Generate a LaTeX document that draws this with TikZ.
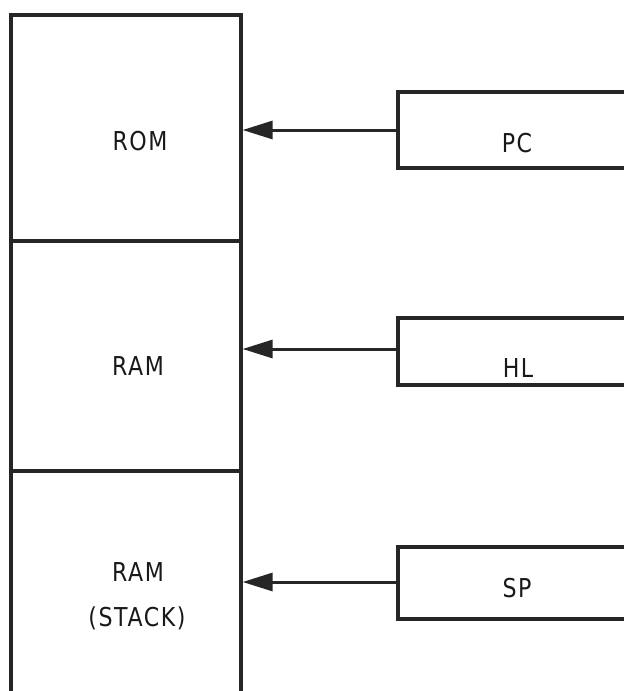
\documentclass[tikz,border=0pt]{standalone}
\usepackage{fontspec}
\setmainfont[FakeStretch=0.85,LetterSpace=6]{DejaVu Sans}
\usetikzlibrary{arrows.meta}
\begin{document}
\begin{tikzpicture}[x=1pt,y=-1pt,
  boxline/.style={draw=black!85, line width=3.2pt},
  membox/.style={boxline, rectangle, inner sep=0pt, minimum width=230pt},
  regbox/.style={boxline, rectangle, inner sep=0pt, minimum width=238pt},
  lbl/.style={font=\fontsize{26}{32}\selectfont, text=black!90, inner sep=0pt},
  ptr/.style={draw=black!85, line width=3pt, -{Triangle[length=30pt,width=18pt]}}]
\useasboundingbox (0,0) rectangle (624,691);
\clip (0,0) rectangle (624,691);
% memory column
\node[membox, minimum height=226pt] (rom) at (126,128) {};
\node[membox, minimum height=230pt] (ram) at (126,356) {};
\node[membox, minimum height=260pt] (stack) at (126,601) {};
% registers
\node[regbox, minimum height=76pt] (pc) at (517,130) {};
\node[regbox, minimum height=67pt] (hl) at (517,351.5) {};
\node[regbox, minimum height=72pt] (sp) at (517,583) {};
% labels
\node[lbl] (tRom) at (140,141) {ROM};
\node[lbl] (tRam) at (138,366) {RAM};
\node[lbl] (tRam2) at (138,572) {RAM};
\node[lbl] (tStack) at (137,618) {(STACK)};
\node[lbl] (tPc) at (517,143) {PC};
\node[lbl] (tHl) at (518,368) {HL};
\node[lbl] (tSp) at (517,588) {SP};
% pointers
\draw[ptr] (pc.west) -- (pc.west -| rom.east);
\draw[ptr] ([yshift=2.5pt]hl.west) -- ([yshift=2.5pt]hl.west -| ram.east);
\draw[ptr] ([yshift=1pt]sp.west) -- ([yshift=1pt]sp.west -| stack.east);
\end{tikzpicture}
\end{document}
